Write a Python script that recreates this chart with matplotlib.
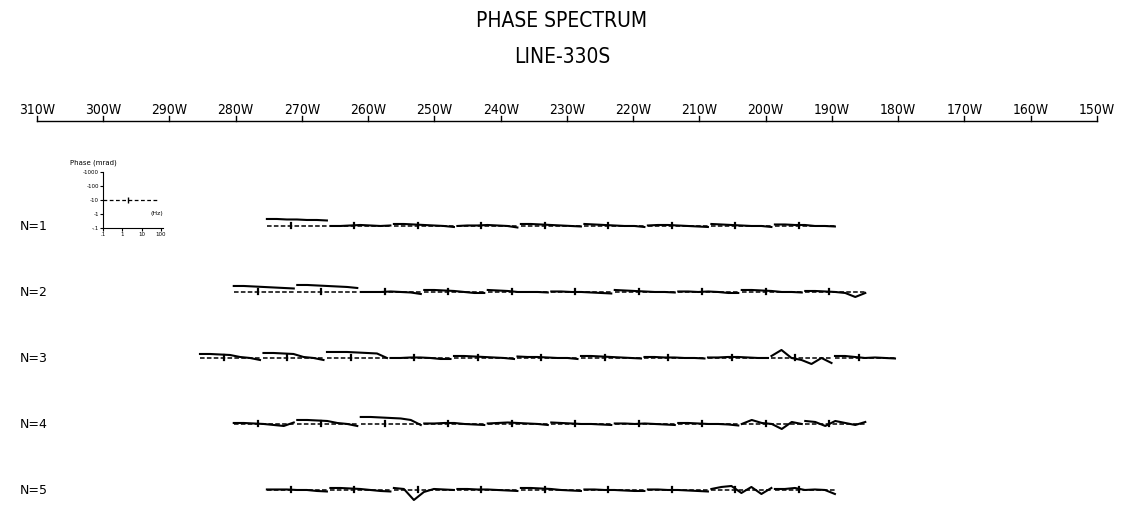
import numpy as np
import matplotlib
matplotlib.use("Agg")
import matplotlib.pyplot as plt

# station axis
stations = [310, 300, 290, 280, 270, 260, 250, 240, 230, 220, 210, 200, 190, 180, 170, 160, 150]
station_labels = [f"{s}W" for s in stations]

# separation rows and where the first spectrum of each row starts (station units)
row_labels = ["N=1", "N=2", "N=3", "N=4", "N=5"]
first_pos = [275.3, 280.3, 285.4, 280.3, 275.3]

# phase spectra: 7 points per curve (.1 .. 100 Hz), offset from the
# dashed reference in plot pixels (up = more negative phase)
phase_n1 = [
    [7, 7, 6.5, 6.5, 6, 6, 5.5],
    [0, 0, 0.5, 1, 0.5, 0, 0.5],
    [2, 2, 1.5, 1, 0.5, 0, -1],
    [0, 0.5, 0.5, 1, 0.5, 0, -1.5],
    [2, 2, 1.5, 1, 0.5, 0, -0.5],
    [2, 1.5, 1, 0.5, 0, 0, -1],
    [0.5, 1, 1, 0.5, 0, -0.5, -1],
    [2, 1.5, 1, 0.5, 0, 0, -1],
    [1.5, 1.5, 1, 1, 0, 0, -0.5],
]
phase_n2 = [
    [6, 6, 5.5, 5, 4.5, 4, 3.5],
    [7, 7, 6.5, 6, 5.5, 5, 4],
    [0, 0, 0, 0.5, 0, -0.5, -2],
    [2, 2, 1.5, 1, 0, -1, -1],
    [2, 1.5, 1, 0, 0, 0, -0.5],
    [0.5, 0.5, 0, 0, -0.5, -1, -1.5],
    [2, 1.5, 1, 0.5, 0, 0, -0.5],
    [0.5, 0.5, 0, 0.5, 0, -1, -1],
    [2, 2, 1.5, 1, 0, 0, -0.5],
    [1, 1, 0.5, 0, -1, -5, -1],
]
phase_n3 = [
    [4, 4, 3.5, 3, 1, 0, -2],
    [5, 5, 4.5, 4, 1, 0, -2],
    [6, 6, 6, 5.5, 5, 4.5, 0],
    [0, 0, 0.5, 0.5, 0, -1, -1],
    [2, 2, 1.5, 1, 0.5, 0, -1],
    [1.5, 1, 1, 0.5, 0, 0, -1],
    [2, 2, 1.5, 1, 0.5, 0, -0.5],
    [1, 1, 0.5, 0.5, 0, 0, -0.5],
    [0.5, 0.5, 1, 1, 0.5, 0, 0],
    [2, 8, 0, -2, -6, 0, -5],
    [2, 2, 1, 0, 0.5, 0, -0.5],
]
phase_n4 = [
    [1, 1, 0.5, 0, -1, -2, 1.5],
    [4, 4, 3.5, 3, 1, 0, -2],
    [7, 7, 6.5, 6, 5.5, 4, -1],
    [0.5, 0.5, 1, 1, 0, -0.5, -1],
    [0.5, 1, 1.5, 1, 0.5, 0, -1],
    [1.5, 1, 0.5, 0, 0, -0.5, -1],
    [0.5, 0.5, 0, 0.5, 0, -0.5, -1],
    [1, 1, 0.5, 0, 0, -0.5, -1.5],
    [0, 4, 1, 0, -5, 2, 0],
    [3, 2, -2, 3, 1, -1, 2],
]
phase_n5 = [
    [0.5, 0.5, 0.5, 0, 0, -1, -1.5],
    [2, 2, 1.5, 1, 0, -1, -1.5],
    [2, 1, -10, -2, 1, 0.5, 0],
    [1, 1, 0.5, 0.5, 0, -0.5, -1],
    [2, 2, 1.5, 1, 0, -0.5, -1],
    [0.5, 0.5, 0, 0, -0.5, -1, -1],
    [0.5, 0.5, 0, 0, -0.5, -1, -1.5],
    [1, 3, 4, -3, 3, -4, 2],
    [1, 1, 2, 0, 0.5, 0, -4],
]
all_rows = [phase_n1, phase_n2, phase_n3, phase_n4, phase_n5]

W, H = 1126, 508
fig = plt.figure(figsize=(W / 100, H / 100), dpi=100)
ax = fig.add_axes([0, 0, 1, 1])
# x in station units (W decreasing to the right), y in row units
ax.set_xlim(315.585, 145.62)
ax.set_ylim(-5.273, 2.424)
ax.axis("off")

vpx = 1 / 66.0      # row units per pixel
curve_w = 9.06      # station units
step = 9.585

# station scale
axis_y = 0.591
ax.plot([stations[0], stations[-1]], [axis_y, axis_y], color="black", lw=1.0)
for s, lab in zip(stations, station_labels):
    ax.plot([s, s], [axis_y, axis_y + 5 * vpx], color="black", lw=1.0)
    ax.text(s, axis_y + 4 * vpx, lab, ha="center", va="bottom", fontsize=10,
            fontstretch="condensed")

fig.text(562 / W, 1 - 21 / H, "PHASE SPECTRUM", ha="center", va="center", fontsize=15,
         fontstretch="condensed")
fig.text(562 / W, 1 - 57 / H, "LINE-330S", ha="center", va="center", fontsize=15,
         fontstretch="condensed")

frac = np.linspace(0, 1, 7)
for n, (lab, s0, curves) in enumerate(zip(row_labels, first_pos, all_rows), start=1):
    base = -n
    fig.text(20 / W, 1 - (227 + (n - 1) * 66) / H, lab, ha="left", va="center", fontsize=9)
    for k, vals in enumerate(curves):
        x0 = s0 - k * step
        xs = x0 - frac * curve_w
        ys = base + np.array(vals) * vpx
        ax.plot([x0, x0 - curve_w], [base, base], color="black", lw=1.1, ls=(0, (3, 1.5)))
        ax.plot(xs, ys, color="black", lw=1.5)
        xm = x0 - 0.4 * curve_w
        ax.plot([xm, xm], [base - 2.5 * vpx, base + 2.5 * vpx], color="black", lw=1.6)

# key / legend inset
key = fig.add_axes([103 / W, 1 - 228 / H, 60 / W, 56 / H])
key.set_xscale("log")
key.set_yscale("log")
key.set_xlim(0.1, 130)
key.set_ylim(0.1, 1000)
key.spines["top"].set_visible(False)
key.spines["right"].set_visible(False)
key.patch.set_alpha(0)
key.set_xticks([0.1, 1, 10, 100])
key.set_xticklabels([".1", "1", "10", "100"])
key.set_yticks([0.1, 1, 10, 100, 1000])
key.set_yticklabels(["-.1", "-1", "-10", "-100", "-1000"])
key.minorticks_off()
key.tick_params(labelsize=4, length=2, width=0.8, pad=1)
key.plot([0.1, 60], [10, 10], color="black", lw=0.9, ls=(0, (3, 2)))
key.plot([2], [10], marker="|", color="black", ms=4)
key.text(30, 0.8, "(Hz)", fontsize=4.5)
fig.text(70 / W, 1 - 163 / H, "Phase (mrad)", fontsize=5, va="center")

fig.savefig("out.png", dpi=100)
